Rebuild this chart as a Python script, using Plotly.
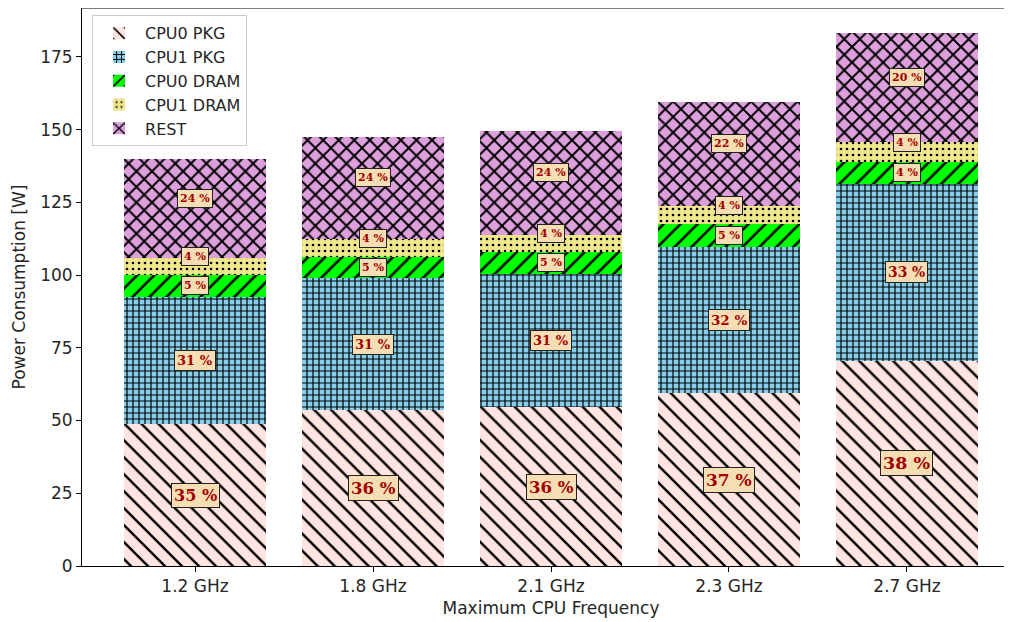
import plotly.graph_objects as go

categories = ["1.2 GHz", "1.8 GHz", "2.1 GHz", "2.3 GHz", "2.7 GHz"]
cpu0_pkg = [48.8, 53.5, 54.5, 59.3, 70.5]
cpu1_pkg = [43.7, 45.6, 46.0, 50.4, 60.9]
cpu0_dram = [7.5, 7.2, 7.6, 7.9, 7.5]
cpu1_dram = [5.9, 6.2, 5.8, 6.2, 6.9]
rest = [34.0, 35.0, 35.6, 35.7, 37.4]

series = [
    ("CPU0 PKG", cpu0_pkg, "#ffe4e1", "\\", 12, 0.2),
    ("CPU1 PKG", cpu1_pkg, "#87ceeb", "+", 6, 0.36),
    ("CPU0 DRAM", cpu0_dram, "#00ff00", "/", 12, 0.22),
    ("CPU1 DRAM", cpu1_dram, "#f0e68c", ".", 6, 0.15),
    ("REST", rest, "#dda0dd", "x", 11, 0.32),
]
# label style per series: (font size factor, vertical offset)
label_style = {
    "CPU0 PKG": (0.46, 0.0),
    "CPU1 PKG": (0.42, 0.0),
    "CPU0 DRAM": (None, 0.0),
    "CPU1 DRAM": (None, 3.3),
    "REST": (None, 3.5),
}

fig = go.Figure()
for name, vals, col, shape, size, sol in series:
    fig.add_trace(go.Bar(
        x=categories, y=vals, name=name, width=0.8,
        marker=dict(color=col, line=dict(width=0),
                    pattern=dict(shape=shape, fgcolor="black", bgcolor=col,
                                 size=size, solidity=sol, fillmode="replace")),
    ))

totals = [sum(v) for v in zip(cpu0_pkg, cpu1_pkg, cpu0_dram, cpu1_dram, rest)]
annotations = []
for i, cat in enumerate(categories):
    base = 0.0
    for name, vals, *_ in series:
        v = vals[i]
        pct = round(v / totals[i] * 100)
        factor, off = label_style[name]
        fsize = pct * factor if factor else 11
        annotations.append(dict(
            x=cat, y=base + v / 2 + off, xref="x", yref="y",
            text=f"<b>{pct} %</b>", showarrow=False,
            font=dict(family="DejaVu Serif", size=fsize, color="#a00000"),
            bgcolor="#f5deb3", bordercolor="#222222", borderwidth=1, borderpad=2,
        ))
        base += v

FS = 17
fig.update_layout(
    barmode="stack",
    width=1012, height=622,
    margin=dict(l=74, r=0, t=0, b=64),
    plot_bgcolor="white", paper_bgcolor="white",
    font=dict(family="DejaVu Sans", size=FS, color="#262626"),
    annotations=annotations,
    legend=dict(x=0.0107, y=0.987, xanchor="left", yanchor="top",
                bgcolor="rgba(255,255,255,0.8)", bordercolor="#cccccc", borderwidth=1,
                font=dict(size=FS - 1, color="#262626"), traceorder="normal",
                itemwidth=42),
    shapes=[dict(type="line", xref="paper", yref="paper", x0=0, x1=1, y0=1, y1=1,
                 line=dict(color="black", width=1))],
)
fig.update_xaxes(range=[-0.635, 4.635], showline=True, linecolor="black", linewidth=1,
                 ticks="outside", ticklen=5, tickcolor="black", showgrid=False,
                 automargin=False, tickfont=dict(size=FS),
                 title=dict(text="Maximum CPU Frequency", standoff=6, font=dict(size=FS)))
fig.update_yaxes(range=[0, 191.8], showline=True, linecolor="black", linewidth=1,
                 ticks="outside", ticklen=5, tickcolor="black", showgrid=False,
                 tickvals=[0, 25, 50, 75, 100, 125, 150, 175], zeroline=False,
                 automargin=False, tickfont=dict(size=FS),
                 title=dict(text="Power Consumption [W]", standoff=10, font=dict(size=FS)))

fig.write_html("out.html")
